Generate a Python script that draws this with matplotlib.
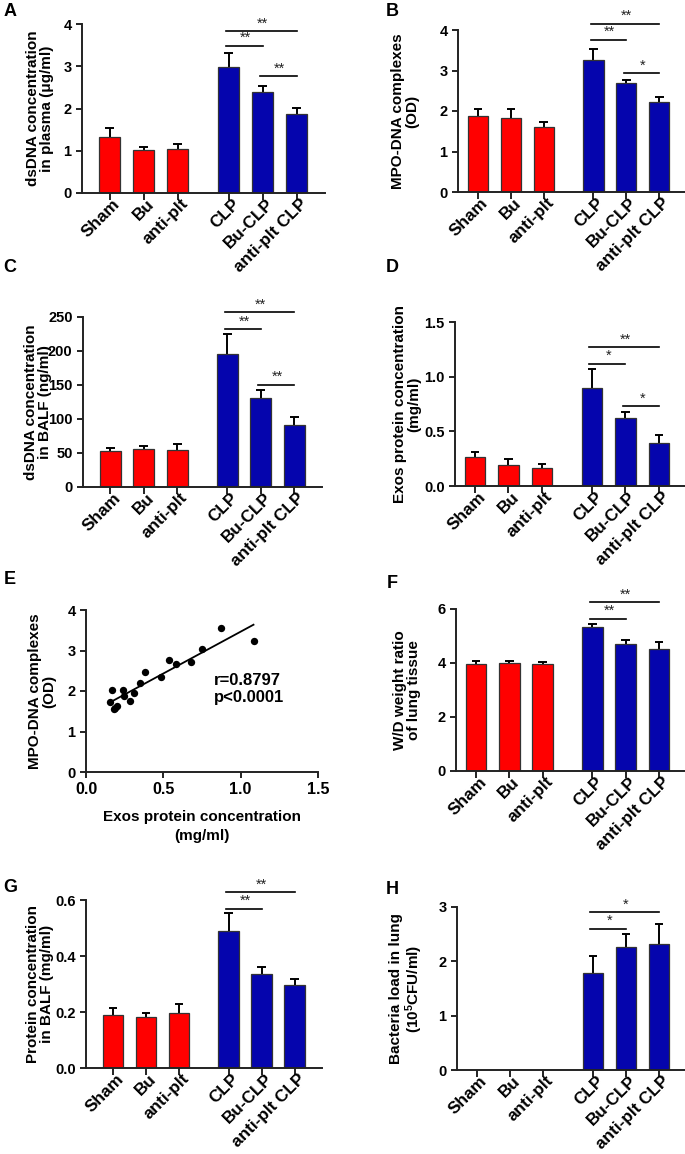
import numpy as np
import matplotlib
matplotlib.use("Agg")
import matplotlib.pyplot as plt
from matplotlib.transforms import ScaledTranslation

plt.rcParams['font.family'] = ['Liberation Sans', 'DejaVu Sans']
plt.rcParams['font.weight'] = 'bold'
plt.rcParams['axes.labelweight'] = 'bold'
plt.rcParams['mathtext.fontset'] = 'custom'
plt.rcParams['mathtext.rm'] = 'Liberation Sans:bold'
plt.rcParams['mathtext.bf'] = 'Liberation Sans:bold'
plt.rcParams['mathtext.default'] = 'rm'

# groups shared by the bar panels
groups = ["Sham", "Bu", "anti-plt", "CLP", "Bu-CLP", "anti-plt CLP"]
group_pos = [0, 1, 2, 3.5, 4.5, 5.5]
group_colors = ["#ff0000"] * 3 + ["#0505ad"] * 3

# A: dsDNA in plasma
a_mean = [1.32, 1.01, 1.03, 2.99, 2.38, 1.88]
a_err = [0.23, 0.07, 0.12, 0.33, 0.15, 0.13]
a_sig = [(3, 5, 3.83, "**"), (3, 4, 3.49, "**"), (4, 5, 2.76, "**")]

# B: MPO-DNA complexes
b_mean = [1.88, 1.83, 1.60, 3.25, 2.70, 2.21]
b_err = [0.17, 0.22, 0.12, 0.28, 0.06, 0.14]
b_sig = [(3, 5, 4.16, "**"), (3, 4, 3.76, "**"), (4, 5, 2.93, "*")]

# C: dsDNA in BALF
c_mean = [52.5, 56, 54, 195, 131, 91]
c_err = [5.5, 4, 9, 29.5, 12, 12]
c_sig = [(3, 5, 257, "**"), (3, 4, 232, "**"), (4, 5, 150, "**")]

# D: exos protein
d_mean = [0.266, 0.196, 0.168, 0.894, 0.624, 0.395]
d_err = [0.044, 0.049, 0.032, 0.176, 0.056, 0.075]
d_sig = [(3, 5, 1.27, "**"), (3, 4, 1.12, "*"), (4, 5, 0.73, "*")]

# E: correlation exos protein vs MPO-DNA
e_x = [0.168, 0.157, 0.238, 0.247, 0.183, 0.203, 0.19, 0.282, 0.31, 0.35,
       0.38, 0.483, 0.537, 0.585, 0.681, 0.753, 0.871, 1.083]
e_y = [2.02, 1.74, 2.02, 1.88, 1.56, 1.63, 1.58, 1.75, 1.94, 2.20,
       2.47, 2.35, 2.76, 2.67, 2.71, 3.03, 3.55, 3.23]

# F: W/D ratio
f_mean = [3.98, 4.00, 3.95, 5.32, 4.70, 4.53]
f_err = [0.11, 0.06, 0.09, 0.14, 0.15, 0.24]
f_sig = [(3, 5, 6.25, "**"), (3, 4, 5.64, "**")]

# G: protein in BALF
g_mean = [0.188, 0.181, 0.198, 0.491, 0.334, 0.296]
g_err = [0.026, 0.017, 0.031, 0.064, 0.026, 0.022]
g_sig = [(3, 5, 0.628, "**"), (3, 4, 0.568, "**")]

# H: bacteria load
h_mean = [0, 0, 0, 1.78, 2.27, 2.31]
h_err = [0, 0, 0, 0.31, 0.23, 0.38]
h_sig = [(3, 5, 2.90, "*"), (3, 4, 2.60, "*")]

W, H = 685, 1154
fig = plt.figure(figsize=(W / 100, H / 100), dpi=100)

TICK_FS = 10.5
XTICK_FS = 12.3
LABEL_FS = 11


def add_ax(l, r, t, b):
    return fig.add_axes([l / W, 1 - b / H, (r - l) / W, (b - t) / H])


def style(ax):
    for s in ("top", "right"):
        ax.spines[s].set_visible(False)
    for s in ("left", "bottom"):
        ax.spines[s].set_linewidth(1.4)
        ax.spines[s].set_color("#222222")
    ax.tick_params(width=1.4, length=4, color="#222222", labelsize=TICK_FS)
    for lab in ax.get_xticklabels() + ax.get_yticklabels():
        lab.set_fontweight("bold")


def bar_panel(box, mean, err, sig, yticks, ylabel, label_x, xlim, fmt="{:g}"):
    l, r, t, b = box
    ax = add_ax(l, r, t, b)
    cap = 0.13
    for p, m, e, c in zip(group_pos, mean, err, group_colors):
        if m <= 0:
            continue
        ax.bar(p, m, width=0.62, color=c, edgecolor="#333333", linewidth=0.9,
               zorder=2)
        # upper error bar only
        ax.vlines(p, m, m + e, color="black", lw=1.4, zorder=1)
        ax.hlines(m + e, p - cap, p + cap, color="black", lw=1.4, zorder=1)
    span = yticks[-1] - yticks[0]
    for i, j, y, stars in sig:
        ax.plot([group_pos[i] - 0.08, group_pos[j]], [y, y], color="black",
                lw=1.2, clip_on=False)
        ax.text((group_pos[i] + group_pos[j]) / 2, y + span * 0.005, stars,
                ha="center", va="bottom", fontsize=10.5, fontweight="normal",
                color="#222222", clip_on=False)
    ax.set_xlim(*xlim)
    ax.set_ylim(yticks[0], yticks[-1])
    ax.set_yticks(yticks)
    ax.set_yticklabels([fmt.format(v) for v in yticks])
    ax.set_xticks(group_pos)
    ax.set_xticklabels(groups, rotation=45, ha="right", va="center",
                       rotation_mode="anchor", fontsize=XTICK_FS,
                       fontweight="bold")
    style(ax)
    ax.tick_params(axis="x", length=5, labelsize=XTICK_FS, pad=1)
    # nudge the slanted labels to the right, like the original
    shift = ScaledTranslation(8 / 100, 0, fig.dpi_scale_trans)
    for lab in ax.get_xticklabels():
        lab.set_transform(lab.get_transform() + shift)
    ax.set_ylabel(ylabel, fontsize=LABEL_FS, fontweight="bold", va="center",
                  linespacing=1.05)
    ax.yaxis.set_label_coords((label_x - l) / (r - l), 0.5)
    return ax


left_lim = (-0.82, 6.33)
right_lim = (-0.6, 6.28)

bar_panel((82, 325, 24, 193), a_mean, a_err, a_sig, [0, 1, 2, 3, 4],
          "dsDNA concentration\nin plasma (μg/ml)", 40, left_lim)
bar_panel((458, 685, 30, 192), b_mean, b_err, b_sig, [0, 1, 2, 3, 4],
          "MPO-DNA complexes\n(OD)", 405, right_lim)
bar_panel((83, 322, 317, 487), c_mean, c_err, c_sig, [0, 50, 100, 150, 200, 250],
          "dsDNA concentration\nin BALF (ng/ml)", 38, left_lim)
bar_panel((455, 685, 322, 486), d_mean, d_err, d_sig, [0, 0.5, 1.0, 1.5],
          "Exos protein concentration\n(mg/ml)", 407, right_lim, "{:.1f}")
bar_panel((456, 685, 609, 771), f_mean, f_err, f_sig, [0, 2, 4, 6],
          "W/D weight ratio\nof lung tissue", 407, right_lim)
bar_panel((86, 322, 900, 1068), g_mean, g_err, g_sig, [0, 0.2, 0.4, 0.6],
          "Protein concentration\nin BALF (mg/ml)", 40, left_lim, "{:.1f}")
bar_panel((457, 685, 907, 1070), h_mean, h_err, h_sig, [0, 1, 2, 3],
          "Bacteria load in lung\n(10$^{5}$CFU/ml)", 407, right_lim)

# E: scatter with linear fit
ax = add_ax(86, 318, 610, 772)
ax.scatter(e_x, e_y, s=28, color="black", zorder=3, linewidths=0)
k, c0 = np.polyfit(e_x, e_y, 1)
fx = np.array([min(e_x), max(e_x)])
ax.plot(fx, k * fx + c0, color="black", lw=1.3)
ax.text(0.83, 2.05, "r=0.8797\np<0.0001", fontsize=12, fontweight="bold",
        va="center", ha="left", linespacing=1.2)
ax.set_xlim(0, 1.5)
ax.set_ylim(0, 4)
ax.set_xticks([0, 0.5, 1.0, 1.5])
ax.set_xticklabels(["0.0", "0.5", "1.0", "1.5"])
ax.set_yticks([0, 1, 2, 3, 4])
style(ax)
ax.tick_params(axis="x", labelsize=11.5)
ax.set_ylabel("MPO-DNA complexes\n(OD)", fontsize=LABEL_FS, fontweight="bold",
              va="center", linespacing=1.05)
ax.yaxis.set_label_coords((42 - 86) / (318 - 86), 0.5)
ax.set_xlabel("Exos protein concentration\n(mg/ml)", fontsize=LABEL_FS,
              fontweight="bold", linespacing=1.5, labelpad=9)

# panel letters
for letter, x, y in [("A", 10, 11), ("B", 392, 11), ("C", 10, 268),
                     ("D", 392, 268), ("E", 10, 580), ("F", 392, 583),
                     ("G", 10, 888), ("H", 392, 890)]:
    fig.text(x / W, 1 - y / H, letter, fontsize=13, fontweight="bold",
             ha="center", va="center")

fig.savefig("out.png", dpi=100)
